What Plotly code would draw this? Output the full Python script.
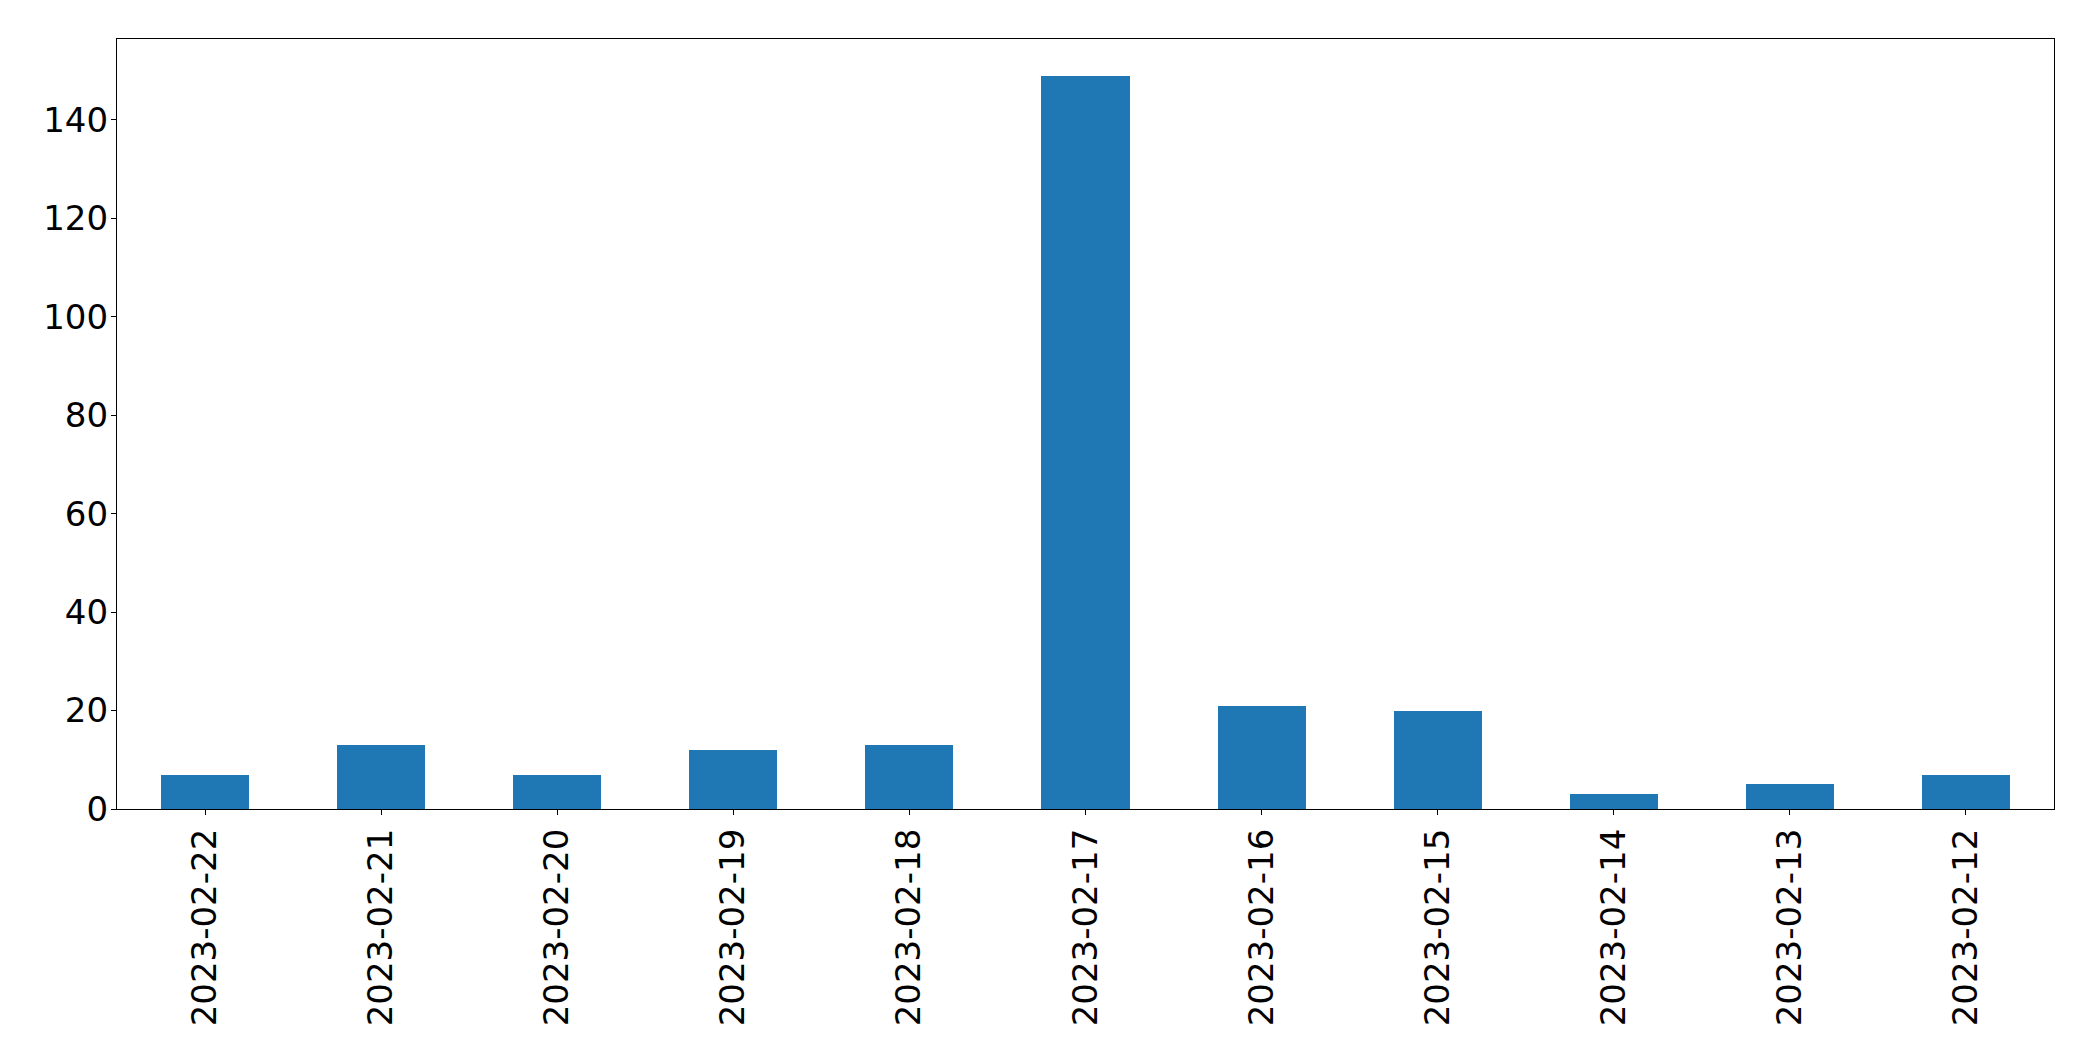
import plotly.graph_objects as go

dates = ["2023-02-22", "2023-02-21", "2023-02-20", "2023-02-19", "2023-02-18",
         "2023-02-17", "2023-02-16", "2023-02-15", "2023-02-14", "2023-02-13", "2023-02-12"]
counts = [7, 13, 7, 12, 13, 149, 21, 20, 3, 5, 7]
y_ticks = [0, 20, 40, 60, 80, 100, 120, 140]

fig = go.Figure(go.Bar(x=dates, y=counts, width=0.5, marker=dict(color="#1f77b4", line=dict(width=0))))

font = dict(family="DejaVu Sans", size=34, color="black")
fig.update_layout(
    width=2093, height=1061,
    margin=dict(l=116.5, r=39, t=39.3, b=251.7, autoexpand=False),
    paper_bgcolor="white", plot_bgcolor="white",
    showlegend=False, font=font, bargap=0,
)
fig.update_xaxes(
    type="category", categoryorder="array", categoryarray=dates,
    range=[-0.5, len(dates) - 0.5], tickangle=-90, tickfont=font,
    showline=True, linecolor="black", linewidth=1.3, mirror=True,
    ticks="outside", ticklen=5, tickwidth=1.3, tickcolor="black",
    showgrid=False, zeroline=False, ticklabelstandoff=0,
)
fig.update_yaxes(
    range=[0, 156.45], tickvals=y_ticks, tickfont=font,
    showline=True, linecolor="black", linewidth=1.3, mirror=True,
    ticks="outside", ticklen=5, tickwidth=1.3, tickcolor="black",
    showgrid=False, zeroline=False, ticklabelstandoff=-4,
)
fig.write_html("out.html")
